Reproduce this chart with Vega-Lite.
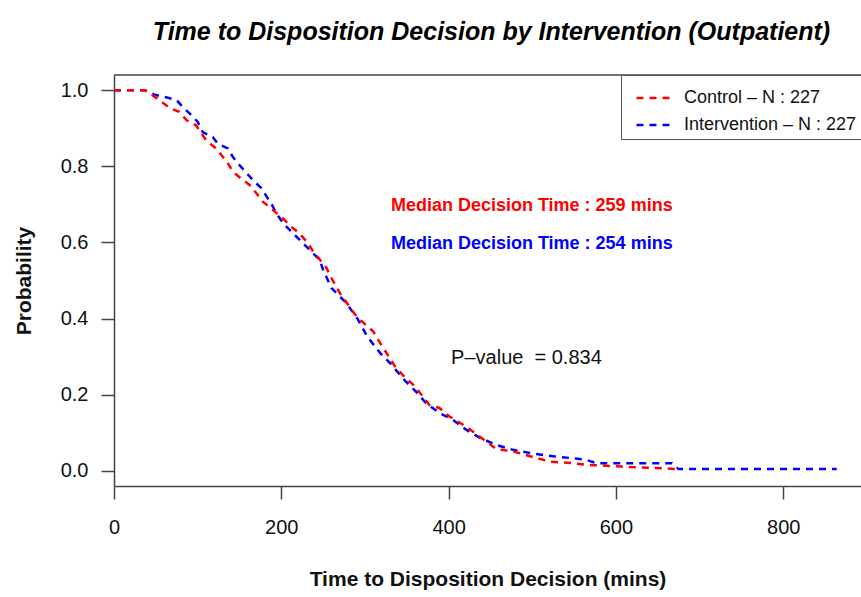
{
  "$schema": "https://vega.github.io/schema/vega-lite/v6.json",
  "width": 747,
  "height": 411,
  "autosize": {"type": "none"},
  "padding": {"left": 114, "top": 75, "right": 0, "bottom": 111},
  "background": "white",
  "title": {
    "text": "Time to Disposition Decision by Intervention (Outpatient)",
    "font": "Liberation Sans",
    "fontSize": 25,
    "fontWeight": "bold",
    "fontStyle": "italic",
    "color": "#000",
    "anchor": "middle",
    "baseline": "alphabetic",
    "offset": 9,
    "dx": 4
  },
  "config": {
    "view": {"stroke": null},
    "axis": {
      "domainColor": "#444",
      "domainWidth": 1.5,
      "tickColor": "#444",
      "tickWidth": 1.5,
      "tickSize": 13,
      "labelFont": "Liberation Sans",
      "labelFontSize": 20,
      "labelColor": "#111",
      "titleFont": "Liberation Sans",
      "titleFontSize": 21,
      "titleFontWeight": "bold",
      "titleColor": "#111",
      "grid": false
    }
  },
  "datasets": {
    "curves": [
      {"group": "Intervention", "time": 0, "prob": 1.0},
      {"group": "Intervention", "time": 37, "prob": 1.0},
      {"group": "Intervention", "time": 49, "prob": 0.988},
      {"group": "Intervention", "time": 61, "prob": 0.982},
      {"group": "Intervention", "time": 75, "prob": 0.974},
      {"group": "Intervention", "time": 82, "prob": 0.956},
      {"group": "Intervention", "time": 90, "prob": 0.94},
      {"group": "Intervention", "time": 100, "prob": 0.917},
      {"group": "Intervention", "time": 106, "prob": 0.89},
      {"group": "Intervention", "time": 118, "prob": 0.877},
      {"group": "Intervention", "time": 124, "prob": 0.86},
      {"group": "Intervention", "time": 136, "prob": 0.847},
      {"group": "Intervention", "time": 142, "prob": 0.825},
      {"group": "Intervention", "time": 150, "prob": 0.803},
      {"group": "Intervention", "time": 166, "prob": 0.764},
      {"group": "Intervention", "time": 176, "prob": 0.743},
      {"group": "Intervention", "time": 189, "prob": 0.698},
      {"group": "Intervention", "time": 194, "prob": 0.677},
      {"group": "Intervention", "time": 202, "prob": 0.651},
      {"group": "Intervention", "time": 210, "prob": 0.633},
      {"group": "Intervention", "time": 226, "prob": 0.598},
      {"group": "Intervention", "time": 234, "prob": 0.58},
      {"group": "Intervention", "time": 246, "prob": 0.554},
      {"group": "Intervention", "time": 250, "prob": 0.528},
      {"group": "Intervention", "time": 260, "prob": 0.48},
      {"group": "Intervention", "time": 278, "prob": 0.44},
      {"group": "Intervention", "time": 291, "prob": 0.4},
      {"group": "Intervention", "time": 303, "prob": 0.352},
      {"group": "Intervention", "time": 318, "prob": 0.31},
      {"group": "Intervention", "time": 330, "prob": 0.283},
      {"group": "Intervention", "time": 347, "prob": 0.239},
      {"group": "Intervention", "time": 361, "prob": 0.208},
      {"group": "Intervention", "time": 373, "prob": 0.178},
      {"group": "Intervention", "time": 389, "prob": 0.152},
      {"group": "Intervention", "time": 405, "prob": 0.134},
      {"group": "Intervention", "time": 421, "prob": 0.108},
      {"group": "Intervention", "time": 437, "prob": 0.087},
      {"group": "Intervention", "time": 457, "prob": 0.068},
      {"group": "Intervention", "time": 477, "prob": 0.055},
      {"group": "Intervention", "time": 501, "prob": 0.045},
      {"group": "Intervention", "time": 525, "prob": 0.038},
      {"group": "Intervention", "time": 548, "prob": 0.033},
      {"group": "Intervention", "time": 564, "prob": 0.029},
      {"group": "Intervention", "time": 577, "prob": 0.02},
      {"group": "Intervention", "time": 667, "prob": 0.02},
      {"group": "Intervention", "time": 675, "prob": 0.0044},
      {"group": "Intervention", "time": 864, "prob": 0.0044},
      {"group": "Control", "time": 0, "prob": 1.0},
      {"group": "Control", "time": 37, "prob": 1.0},
      {"group": "Control", "time": 46, "prob": 0.987},
      {"group": "Control", "time": 57, "prob": 0.969},
      {"group": "Control", "time": 67, "prob": 0.953},
      {"group": "Control", "time": 78, "prob": 0.943},
      {"group": "Control", "time": 87, "prob": 0.921},
      {"group": "Control", "time": 98, "prob": 0.908},
      {"group": "Control", "time": 110, "prob": 0.869},
      {"group": "Control", "time": 122, "prob": 0.847},
      {"group": "Control", "time": 135, "prob": 0.812},
      {"group": "Control", "time": 142, "prob": 0.786},
      {"group": "Control", "time": 152, "prob": 0.768},
      {"group": "Control", "time": 162, "prob": 0.751},
      {"group": "Control", "time": 170, "prob": 0.73},
      {"group": "Control", "time": 178, "prob": 0.707},
      {"group": "Control", "time": 190, "prob": 0.685},
      {"group": "Control", "time": 204, "prob": 0.659},
      {"group": "Control", "time": 212, "prob": 0.641},
      {"group": "Control", "time": 221, "prob": 0.625},
      {"group": "Control", "time": 232, "prob": 0.598},
      {"group": "Control", "time": 238, "prob": 0.576},
      {"group": "Control", "time": 246, "prob": 0.555},
      {"group": "Control", "time": 254, "prob": 0.533},
      {"group": "Control", "time": 260, "prob": 0.506},
      {"group": "Control", "time": 270, "prob": 0.467},
      {"group": "Control", "time": 290, "prob": 0.405},
      {"group": "Control", "time": 310, "prob": 0.366},
      {"group": "Control", "time": 318, "prob": 0.336},
      {"group": "Control", "time": 336, "prob": 0.274},
      {"group": "Control", "time": 345, "prob": 0.252},
      {"group": "Control", "time": 360, "prob": 0.221},
      {"group": "Control", "time": 377, "prob": 0.173},
      {"group": "Control", "time": 389, "prob": 0.165},
      {"group": "Control", "time": 401, "prob": 0.143},
      {"group": "Control", "time": 421, "prob": 0.116},
      {"group": "Control", "time": 437, "prob": 0.09},
      {"group": "Control", "time": 457, "prob": 0.057},
      {"group": "Control", "time": 477, "prob": 0.051},
      {"group": "Control", "time": 501, "prob": 0.036},
      {"group": "Control", "time": 521, "prob": 0.024},
      {"group": "Control", "time": 548, "prob": 0.02},
      {"group": "Control", "time": 564, "prob": 0.016},
      {"group": "Control", "time": 607, "prob": 0.011},
      {"group": "Control", "time": 650, "prob": 0.007},
      {"group": "Control", "time": 675, "prob": 0.0044}
    ],
    "notes": [
      {"key": "ctl", "time": 331, "prob": 0.696, "label": "Median Decision Time : 259 mins"},
      {"key": "int", "time": 331, "prob": 0.595, "label": "Median Decision Time : 254 mins"},
      {"key": "p", "time": 403, "prob": 0.297, "label": "P–value\u00a0 = 0.834"}
    ]
  },
  "layer": [
    {
      "data": {"name": "curves"},
      "mark": {"type": "line", "strokeWidth": 2.5, "strokeDash": [7, 6], "interpolate": "linear"},
      "encoding": {
        "x": {
          "field": "time",
          "type": "quantitative",
          "scale": {"domain": [0, 893], "nice": false, "zero": false},
          "axis": {
            "title": "Time to Disposition Decision (mins)",
            "values": [0, 200, 400, 600, 800],
            "format": "d",
            "labelPadding": 18,
            "titlePadding": 31,
            "labelFlush": false,
            "labelOverlap": false
          }
        },
        "y": {
          "field": "prob",
          "type": "quantitative",
          "scale": {"domain": [-0.04, 1.04], "nice": false, "zero": false},
          "axis": {
            "title": "Probability",
            "values": [0, 0.2, 0.4, 0.6, 0.8, 1.0],
            "format": ".1f",
            "labelPadding": 13,
            "titlePadding": 26
          }
        },
        "color": {
          "field": "group",
          "type": "nominal",
          "scale": {"domain": ["Control", "Intervention"], "range": ["#ff0000", "#0000ff"]},
          "legend": {
            "orient": "none",
            "legendX": 507,
            "legendY": 0,
            "title": null,
            "strokeColor": "#555",
            "fillColor": "white",
            "padding": 5,
            "rowPadding": -14,
            "symbolType": "stroke",
            "symbolSize": 1089,
            "symbolStrokeWidth": 2.5,
            "symbolDash": [7, 6],
            "symbolOffset": 9,
            "labelFont": "Liberation Sans",
            "labelFontSize": 18,
            "labelColor": "#111",
            "labelOffset": 13,
            "labelLimit": 400,
            "labelExpr": "datum.label + ' – N : 227'"
          }
        }
      }
    },
    {
      "data": {"values": [{"top": 1.04}]},
      "mark": {"type": "rule", "color": "#444", "strokeWidth": 1.5},
      "encoding": {"y": {"field": "top", "type": "quantitative"}}
    },
    {
      "data": {"name": "notes"},
      "transform": [{"filter": "datum.key == 'ctl'"}],
      "mark": {"type": "text", "align": "left", "baseline": "middle", "font": "Liberation Sans", "fontSize": 18, "fontWeight": "bold", "color": "#ff0000"},
      "encoding": {
        "x": {"field": "time", "type": "quantitative"},
        "y": {"field": "prob", "type": "quantitative"},
        "text": {"field": "label"}
      }
    },
    {
      "data": {"name": "notes"},
      "transform": [{"filter": "datum.key == 'int'"}],
      "mark": {"type": "text", "align": "left", "baseline": "middle", "font": "Liberation Sans", "fontSize": 18, "fontWeight": "bold", "color": "#0000ff"},
      "encoding": {
        "x": {"field": "time", "type": "quantitative"},
        "y": {"field": "prob", "type": "quantitative"},
        "text": {"field": "label"}
      }
    },
    {
      "data": {"name": "notes"},
      "transform": [{"filter": "datum.key == 'p'"}],
      "mark": {"type": "text", "align": "left", "baseline": "middle", "font": "Liberation Sans", "fontSize": 20, "color": "#111"},
      "encoding": {
        "x": {"field": "time", "type": "quantitative"},
        "y": {"field": "prob", "type": "quantitative"},
        "text": {"field": "label"}
      }
    }
  ]
}
